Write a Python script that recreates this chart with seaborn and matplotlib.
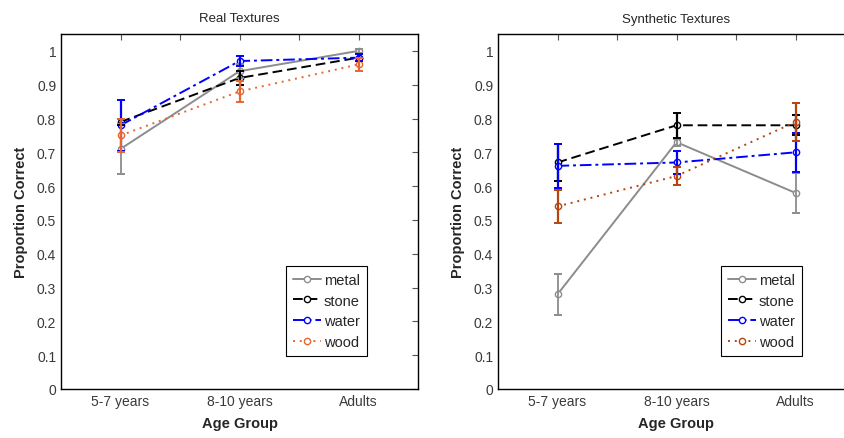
import numpy as np
import pandas as pd
import matplotlib
matplotlib.use("Agg")
import matplotlib.pyplot as plt
import seaborn as sns
from matplotlib.lines import Line2D

# Donnees
groups = ["5-7 years", "8-10 years", "Adults"]
materials = ["metal", "stone", "water", "wood"]

real_metal = [0.71, 0.94, 1.00]
real_stone = [0.79, 0.92, 0.98]
real_water = [0.78, 0.97, 0.98]
real_wood = [0.75, 0.88, 0.96]
real_metal_err = [0.075, 0.02, 0.005]
real_stone_err = [0.01, 0.02, 0.01]
real_water_err = [0.075, 0.015, 0.01]
real_wood_err = [0.05, 0.03, 0.02]

syn_metal = [0.28, 0.73, 0.58]
syn_stone = [0.67, 0.78, 0.78]
syn_water = [0.66, 0.67, 0.70]
syn_wood = [0.54, 0.63, 0.79]
syn_metal_err = [0.06, 0.01, 0.06]
syn_stone_err = [0.055, 0.037, 0.03]
syn_water_err = [0.065, 0.035, 0.057]
syn_wood_err = [0.048, 0.028, 0.055]

yticks = np.round(np.arange(0, 1.01, 0.1), 1)
ytick_labels = ["0", "0.1", "0.2", "0.3", "0.4", "0.5", "0.6", "0.7", "0.8", "0.9", "1"]

sns.set_style("white")
plt.rcParams['font.family'] = ['Liberation Sans', 'DejaVu Sans']


def make_df(vals, errs):
    rows = []
    for m, v, e in zip(materials, vals, errs):
        for i, g in enumerate(groups):
            rows.append({"pos": i + 1, "group": g, "material": m,
                         "value": v[i], "err": e[i]})
    return pd.DataFrame(rows)


df_real = make_df([real_metal, real_stone, real_water, real_wood],
                  [real_metal_err, real_stone_err, real_water_err, real_wood_err])
df_syn = make_df([syn_metal, syn_stone, syn_water, syn_wood],
                 [syn_metal_err, syn_stone_err, syn_water_err, syn_wood_err])

dashes = {"metal": "", "stone": (5, 2.5), "water": (6, 2, 1.5, 2), "wood": (1, 2.5)}
pal_real = {"metal": "#8c8c8c", "stone": "#000000", "water": "#0000ff", "wood": "#e8662e"}
pal_syn = {"metal": "#8c8c8c", "stone": "#000000", "water": "#0000ff", "wood": "#b5440f"}

W, H = 844, 439
fig = plt.figure(figsize=(W / 100, H / 100), dpi=100)
ax1 = fig.add_axes([61 / W, 1 - 390 / H, 357 / W, 355 / H])
ax2 = fig.add_axes([498 / W, 1 - 390 / H, 357 / W, 355 / H])


def draw(ax, df, pal, title, anchor):
    sns.lineplot(data=df, x="pos", y="value", hue="material", style="material",
                 palette=pal, dashes=dashes, markers={m: "o" for m in materials},
                 markersize=4.5, linewidth=1.4, ax=ax, legend=False, sort=False)
    # cercles vides comme dans MATLAB
    for line in ax.lines:
        line.set_markerfacecolor("white")
        line.set_markeredgecolor(line.get_color())
        line.set_markeredgewidth(1.0)
    for m in materials:
        sub = df[df.material == m]
        ax.errorbar(sub["pos"], sub["value"], yerr=sub["err"], fmt="none",
                    ecolor=pal[m], elinewidth=1.6 if m != "metal" else 1.3,
                    capsize=3, capthick=1.4, zorder=3)
    ax.set_xlim(0.5, 3.5)
    ax.set_ylim(0, 1.05)
    ax.set_xticks([1, 1.5, 2, 2.5, 3])
    ax.set_xticklabels([groups[0], "", groups[1], "", groups[2]])
    ax.set_yticks(yticks)
    ax.set_yticklabels(ytick_labels)
    ax.tick_params(direction="in", length=4, top=True, right=True,
                   labelsize=10, labelcolor="#3a3a3a", color="#555555", width=0.8)
    for s in ax.spines.values():
        s.set_color("black")
        s.set_linewidth(1.0)
    ax.set_xlabel("Age Group", fontsize=10.5, fontweight="bold", labelpad=6)
    ax.set_ylabel("Proportion Correct", fontsize=10.5, fontweight="bold", labelpad=6)
    ax.set_title(title, fontsize=9.5, pad=9)
    handles = [Line2D([0], [0], color=pal[m], lw=1.4, marker="o", markersize=4.5,
                      markerfacecolor="white",
                      linestyle=(0, dashes[m]) if dashes[m] else "-")
               for m in materials]
    leg = ax.legend(handles, materials, loc="lower right", bbox_to_anchor=anchor,
                    fancybox=False, edgecolor="black", framealpha=1,
                    fontsize=10.5, handlelength=1.9, handletextpad=0.2,
                    labelspacing=0.45, borderpad=0.5, borderaxespad=0)
    leg.get_frame().set_linewidth(0.8)


draw(ax1, df_real, pal_real, "Real Textures", (0.857, 0.093))
draw(ax2, df_syn, pal_syn, "Synthetic Textures", (0.852, 0.093))

fig.savefig("out.png", dpi=100)
